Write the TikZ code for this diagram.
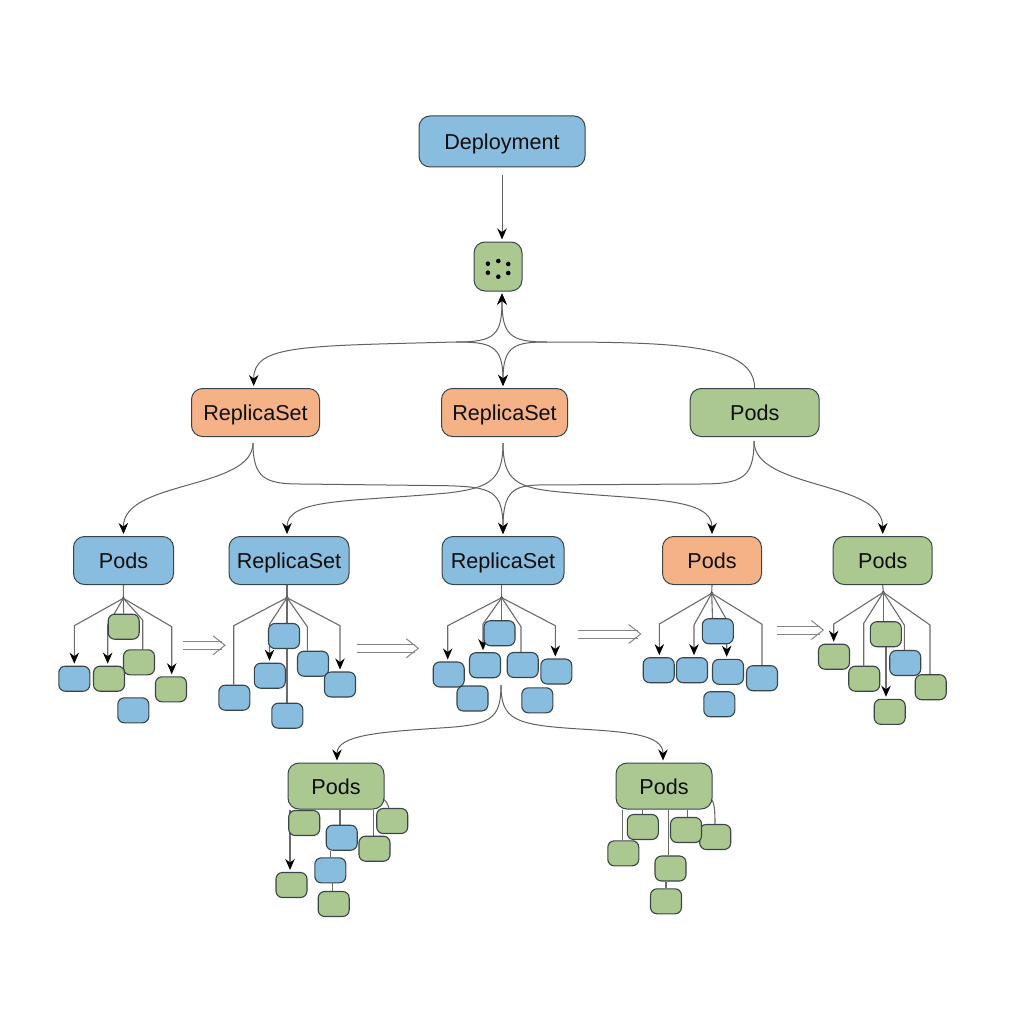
\documentclass[tikz,border=0pt]{standalone}
\usepackage{fontspec}
\setmainfont{Liberation Sans}
\usepackage{tikz}
\usetikzlibrary{arrows.meta,backgrounds,calc}
\definecolor{boxblue}{HTML}{88BDE0}
\definecolor{boxorange}{HTML}{F5B287}
\definecolor{boxgreen}{HTML}{ABC891}
\definecolor{boxedge}{HTML}{3A4548}
\tikzset{
    >={Stealth[length=11pt,width=9.5pt,color=black]},
    box/.style={draw=boxedge, line width=1pt, rounded corners=11pt, inner sep=0pt,
        minimum height=48pt, text=black!95, text height=18pt, text depth=2pt,
        font=\fontsize{21.6}{24}\selectfont},
    kid/.style={draw=boxedge, line width=1.1pt, rounded corners=6.5pt, inner sep=0pt,
        minimum width=31pt, minimum height=25pt},
    curve/.style={line width=1pt, draw=black!62},
    curvein/.style={curve, ->, shorten >=2pt},
    kidline/.style={line width=1.1pt, draw=black!58, line join=round},
    kidarrow/.style={kidline, ->, shorten >=2pt},
    thenline/.style={line width=1pt, draw=black!48}
}
% double arrow between the groups: start x, centre y, end x
\newcommand{\thenarrow}[3]{
    \draw[thenline] (#1,#2-4) -- (#3-3,#2-4);
    \draw[thenline] (#1,#2+4) -- (#3-3,#2+4);
    \draw[thenline] (#3-12,#2-9.5) -- (#3,#2) -- (#3-12,#2+9.5);
}

\begin{document}
\begin{tikzpicture}[x=1pt,y=-1pt]
    \useasboundingbox (0,0) rectangle (1024,1024);

    % Top of the tree
    \node[box, fill=boxblue, minimum width=166pt, minimum height=51pt] (deployment) at (502,141.5) {Deployment};
    \node[box, fill=boxgreen, minimum width=48pt, minimum height=49pt] (podring) at (498,266.5) {};
    \foreach \dotx/\doty in {498.3/261, 487.9/263.7, 508.2/264, 487.9/272.7, 508.2/273, 498.3/276.7}
        \fill[black] (\dotx,\doty) circle (2.3pt);

    % Second row
    \node[box, fill=boxorange, minimum width=128pt] (repleft) at (255.5,412.5) {ReplicaSet};
    \node[box, fill=boxorange, minimum width=126pt] (repmid) at (504.5,412.5) {ReplicaSet};
    \node[box, fill=boxgreen, minimum width=129pt] (podtop) at (754.7,412.5) {Pods};

    % Third row
    \node[box, fill=boxblue, minimum width=100pt] (podsblue) at (123.5,560.5) {Pods};
    \node[box, fill=boxblue, minimum width=120pt] (repblue) at (289,560.5) {ReplicaSet};
    \node[box, fill=boxblue, minimum width=122pt] (repcentre) at (503,560.5) {ReplicaSet};
    \node[box, fill=boxorange, minimum width=99pt] (podsorange) at (712,560.5) {Pods};
    \node[box, fill=boxgreen, minimum width=99pt] (podsgreen) at (882.7,560.5) {Pods};

    % Last row
    \node[box, fill=boxgreen, minimum width=96pt, minimum height=46pt] (podsleft) at (336,786) {Pods};
    \node[box, fill=boxgreen, minimum width=96pt, minimum height=46pt] (podsright) at (664,786) {Pods};

    % Small pod boxes, later ones lie on earlier ones
    \foreach \name/\px/\py/\col in {
        a1/74.3/678.7/boxblue, a2/123.7/626.7/boxgreen, a3/139/662.3/boxgreen, a4/109/678.7/boxgreen,
        a5/171/689.3/boxgreen, a6/133.3/710.3/boxblue,
        b1/234.3/697.7/boxblue, b2/284/636/boxblue, b3/269.8/675.7/boxblue, b4/287.3/715.7/boxblue,
        b5/313/663.7/boxblue, b6/340/684.5/boxblue,
        c1/448.7/674.5/boxblue, c2/499.5/633.2/boxblue, c3/485/665.2/boxblue, c4/522.7/665/boxblue,
        c5/556.3/671.5/boxblue, c6/472.5/698.5/boxblue, c7/537.3/700.3/boxblue,
        d1/658.7/670.2/boxblue, d2/692/670.2/boxblue, d3/717.8/631.2/boxblue, d4/728/671.8/boxblue,
        d5/762/678.2/boxblue, d6/719.3/704.2/boxblue,
        e1/834/656.7/boxgreen, e2/864.2/678.7/boxgreen, e3/885.8/634.2/boxgreen, e4/905.2/663/boxblue,
        e5/930.7/687.2/boxgreen, e6/889.7/711.8/boxgreen,
        f1/291.5/885/boxgreen, f2/304.2/823/boxgreen, f3/392.2/821/boxgreen, f4/374.5/848.7/boxgreen,
        f5/341.7/837.7/boxblue, f6/330.3/870.3/boxblue, f7/333.7/904/boxgreen,
        g1/623.3/853.3/boxgreen, g2/642.8/827/boxgreen, g3/715.2/837/boxgreen, g4/686/830/boxgreen,
        g5/670.5/868.5/boxgreen, g6/666/901.3/boxgreen}
        \node[kid, fill=\col] (\name) at (\px,\py) {};

    % Free ends of the curves
    \coordinate (hubleft) at (456,342);
    \coordinate (hubright) at (547,342);
    \coordinate (outleft) at (253,443);
    \coordinate (outmid) at (503,443);
    \coordinate (outright) at (754,441);
    \coordinate (outbottom) at (501,685);
    % Forks under the third row
    \coordinate (forka) at (123.3,598.3);
    \coordinate (forkb) at (287,597.7);
    \coordinate (forkc) at (501.7,597.7);
    \coordinate (forkd) at (711.7,593.3);
    \coordinate (forke) at (883.3,592.3);

    \begin{scope}[on background layer]
        \draw[curvein, shorten <=8pt] (deployment.south -| 502,0) -- (502,0 |- podring.north);

        % Curves between first and second row
        \draw[curvein] (hubleft) .. controls (300,346) and (253.7,345) .. (253.7,0 |- repleft.north);
        \draw[curvein] (hubleft) .. controls (495,342) and (502,335) .. (502,0 |- podring.south);
        \draw[curvein] (hubleft) .. controls (490,342) and (503,345) .. (503,0 |- repmid.north);
        \draw[curvein] (hubright) .. controls (510,342) and (502,335) .. (502,0 |- podring.south);
        \draw[curvein] (hubright) .. controls (516,342) and (503,345) .. (503,0 |- repmid.north);
        \draw[curve] (podtop.north) .. controls (754,345) and (680,342) .. (hubright);

        % Curves between second and third row
        \draw[curvein] (outleft) .. controls (253,490) and (123,480) .. (podsblue.north);
        \draw[curvein] (outleft) .. controls (253,478) and (265,484) .. (300,484)
            -- (447,485.7) .. controls (490,487) and (503,490) .. (503,0 |- repcentre.north);
        \draw[curvein] (outmid) .. controls (503,480) and (490,488) .. (447.5,493)
            .. controls (350,502) and (287,498) .. (287,0 |- repblue.north);
        \draw[curvein] (outmid) .. controls (503,480) and (516,488) .. (560,492)
            .. controls (650,500) and (712,498) .. (podsorange.north);
        \draw[curvein] (outright) .. controls (754,478) and (742,484) .. (700,484)
            -- (538,485) .. controls (515,486) and (503,490) .. (503,0 |- repcentre.north);
        \draw[curvein] (outright) .. controls (754,490) and (883,480) .. (podsgreen.north);

        % Curves to the last row
        \draw[curvein] (outbottom) .. controls (501,720) and (490,725) .. (440,728)
            .. controls (380,732) and (337,735) .. (337,0 |- podsleft.north);
        \draw[curvein] (outbottom) .. controls (501,720) and (515,725) .. (580,729)
            .. controls (630,732) and (663,735) .. (663,0 |- podsright.north);

        % Fork under the blue Pods
        \draw[kidline] (podsblue.south) -- (forka);
        \fill[black!75] (forka) circle (1.6pt);
        \draw[kidarrow] (forka) -- (74.3,625.7) -- (a1.north);
        \draw[kidline] (forka) -- (a2.north);
        \draw[kidarrow] (forka) -- (107.7,625) -- (107.7,0 |- a4.north);
        \draw[kidline] (forka) -- (142.7,620) -- (142.7,0 |- a3.north);
        \draw[kidarrow] (forka) -- (171.7,626.7) -- (171.7,0 |- a5.north);

        % Fork under the blue ReplicaSet
        \draw[kidline] (287,0 |- repblue.south) -- (forkb);
        \fill[black!75] (forkb) circle (1.6pt);
        \draw[kidline] (forkb) -- (233.7,625.7) -- (233.7,0 |- b1.north);
        \draw[kidarrow] (forkb) -- (269.5,624.3) -- (269.5,0 |- b3.north);
        \draw[kidline] (forkb) -- (287,0 |- b4.north);
        \draw[kidline] (forkb) -- (307.3,626.7) -- (307.3,0 |- b5.north);
        \draw[kidarrow] (forkb) -- (340,625.7) -- (b6.north);

        % Fork under the middle ReplicaSet
        \draw[kidline] (501.7,0 |- repcentre.south) -- (forkc);
        \fill[black!75] (forkc) circle (1.6pt);
        \draw[kidarrow] (forkc) -- (447.7,625.7) -- (447.7,0 |- c1.north);
        \draw[kidarrow] (forkc) -- (483,624) -- (483,0 |- c3.north);
        \draw[kidline] (forkc) -- (501.7,0 |- c2.north);
        \draw[kidline] (forkc) -- (521,626.7) -- (521,0 |- c4.north);
        \draw[kidarrow] (forkc) -- (555.3,625.7) -- (555.3,0 |- c5.north);

        % Fork under the orange Pods
        \draw[kidline] (podsorange.south) -- (forkd);
        \fill[black!75] (forkd) circle (1.6pt);
        \draw[kidarrow] (forkd) -- (659.3,624) -- (659.3,0 |- d1.north);
        \draw[kidarrow] (forkd) -- (694,625) -- (694,0 |- d2.north);
        \draw[kidline] (forkd) -- (712.5,0 |- d3.north);
        \draw[kidarrow] (forkd) -- (726.7,620) -- (726.7,0 |- d4.north);
        \draw[kidline] (forkd) -- (762,624.3) -- (d5.north);

        % Fork under the green Pods
        \draw[kidline] (podsgreen.south) -- (forke);
        \fill[black!75] (forke) circle (1.6pt);
        \draw[kidarrow] (forke) -- (833.7,624) -- (833.7,0 |- e1.north);
        \draw[kidline] (forke) -- (863.7,623.3) -- (863.7,0 |- e2.north);
        \draw[kidline] (forke) -- (883.3,0 |- e3.north);
        \draw[kidline] (forke) -- (904.3,625) -- (904.3,0 |- e4.north);
        \draw[kidline] (forke) -- (930,625) -- (930,0 |- e5.north);
        \draw[kidarrow] (886,0 |- e3.south) -- (886,0 |- e6.north);

        % Lines under the left Pods of the last row
        \draw[kidarrow] (290,0 |- podsleft.south) -- (290,0 |- f1.north);
        \draw[kidline] (340,0 |- podsleft.south) -- (340,0 |- f5.north);
        \draw[kidline] (330.7,0 |- f5.south) -- (330.7,0 |- f6.north);
        \draw[kidline] (332.7,0 |- f6.south) -- (332.7,0 |- f7.north);
        \draw[kidline] (373.3,0 |- podsleft.south) -- (373.3,0 |- f4.north);
        \draw[kidline] ($(podsleft.east)+(-1,13)$) .. controls (387,802) and (388.7,806) .. (388.7,0 |- f3.north);

        % Lines under the right Pods of the last row
        \draw[kidline] (622.7,0 |- podsright.south) -- (622.7,0 |- g1.north);
        \draw[kidline] (642.3,0 |- podsright.south) -- (642.3,0 |- g2.north);
        \draw[kidline] (668.3,0 |- podsright.south) -- (668.3,0 |- g5.north);
        \draw[kidline] (666,0 |- g5.south) -- (666,0 |- g6.north);
        \draw[kidline] (687.7,0 |- podsright.south) -- (687.7,0 |- g4.north);
        \draw[kidline] ($(podsright.east)+(-1,13)$) .. controls (714,803) and (715,808) .. (715,0 |- g3.north);
    \end{scope}

    % Double arrows between the groups
    \thenarrow{183}{645.3}{225}
    \thenarrow{357}{648.3}{418.3}
    \thenarrow{578.3}{634}{640.7}
    \thenarrow{776.7}{630}{823.3}

\end{tikzpicture}
\end{document}
